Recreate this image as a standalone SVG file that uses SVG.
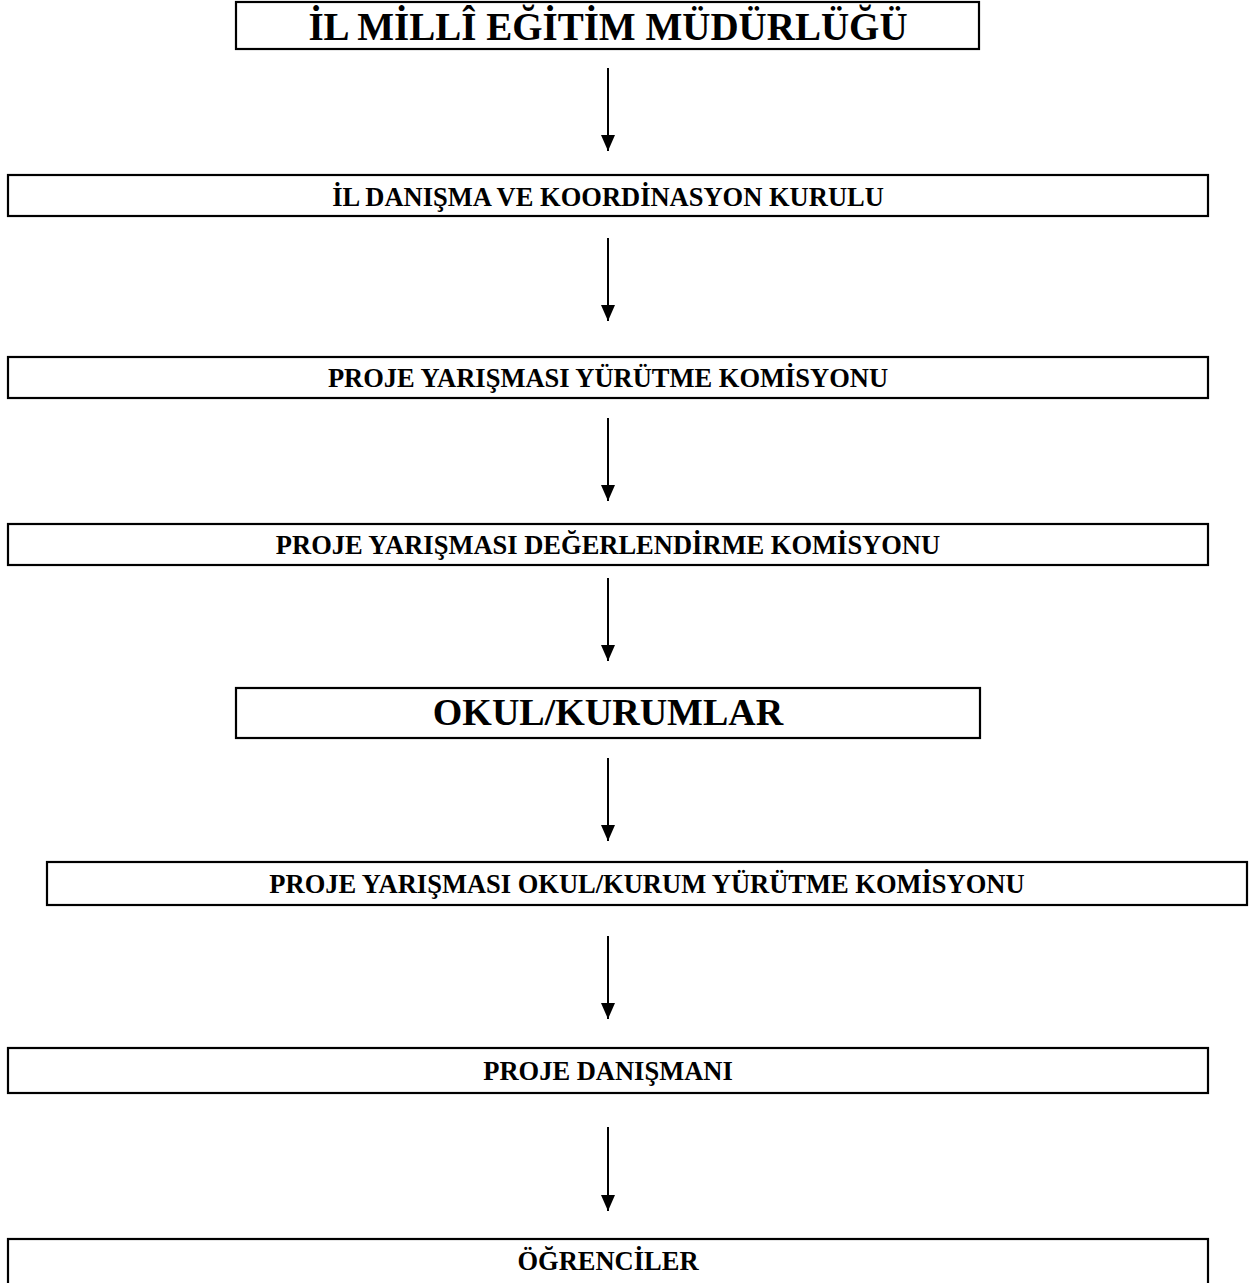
<svg xmlns="http://www.w3.org/2000/svg" width="1249" height="1283" viewBox="0 0 1249 1283">
<style>
.box{fill:#fff;stroke:#000;stroke-width:2.2}
.t{font-family:"Liberation Serif","Times New Roman",serif;font-weight:bold;fill:#000;text-anchor:middle}
.big{font-size:39px}
.mid{font-size:38px}
.sm{font-size:26.5px}
.c{stroke:#000;stroke-width:2;fill:none;marker-end:url(#ah)}
</style>
<defs>
<marker id="ah" markerWidth="17" markerHeight="14" refX="16" refY="7" orient="auto" markerUnits="userSpaceOnUse" viewBox="0 0 17 14">
<path d="M0,0 L16,7 L0,14 Z" fill="#000"/>
</marker>
</defs>
<rect width="1249" height="1283" fill="#fff"/>
<g id="connectors">
<line class="c" x1="608" y1="68" x2="608" y2="151"/>
<line class="c" x1="608" y1="238" x2="608" y2="321"/>
<line class="c" x1="608" y1="418" x2="608" y2="501"/>
<line class="c" x1="608" y1="578" x2="608" y2="661"/>
<line class="c" x1="608" y1="758" x2="608" y2="841"/>
<line class="c" x1="608" y1="936" x2="608" y2="1019"/>
<line class="c" x1="608" y1="1127" x2="608" y2="1211"/>
</g>
<g id="n1"><rect class="box" x="236" y="2" width="743" height="47"/><text class="t big" x="608" y="40">İL MİLLÎ EĞİTİM MÜDÜRLÜĞÜ</text></g>
<g id="n2"><rect class="box" x="8" y="175" width="1200" height="41"/><text class="t sm" x="608" y="206">İL DANIŞMA VE KOORDİNASYON KURULU</text></g>
<g id="n3"><rect class="box" x="8" y="357" width="1200" height="41"/><text class="t sm" x="608" y="387">PROJE YARIŞMASI YÜRÜTME KOMİSYONU</text></g>
<g id="n4"><rect class="box" x="8" y="524" width="1200" height="41"/><text class="t sm" x="608" y="554">PROJE YARIŞMASI DEĞERLENDİRME KOMİSYONU</text></g>
<g id="n5"><rect class="box" x="236" y="688" width="744" height="50"/><text class="t mid" x="608" y="725">OKUL/KURUMLAR</text></g>
<g id="n6"><rect class="box" x="47" y="862" width="1200" height="43"/><text class="t sm" x="647" y="893">PROJE YARIŞMASI OKUL/KURUM YÜRÜTME KOMİSYONU</text></g>
<g id="n7"><rect class="box" x="8" y="1048" width="1200" height="45"/><text class="t sm" x="608" y="1080">PROJE DANIŞMANI</text></g>
<g id="n8"><rect class="box" x="8" y="1239" width="1200" height="50"/><text class="t sm" x="608" y="1270">ÖĞRENCİLER</text></g>
</svg>
